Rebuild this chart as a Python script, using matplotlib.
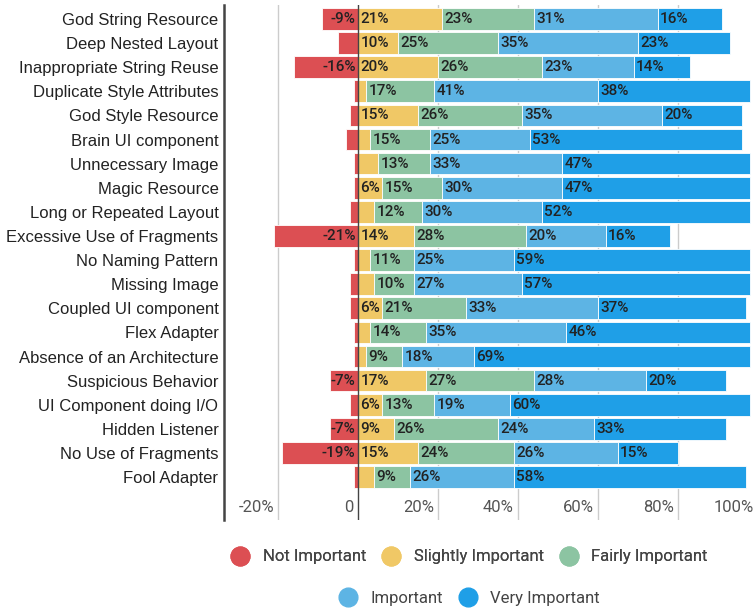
import matplotlib
matplotlib.use("Agg")
import matplotlib.pyplot as plt
from matplotlib.lines import Line2D
from matplotlib.transforms import blended_transform_factory, ScaledTranslation
import numpy as np

categories = ["God String Resource", "Deep Nested Layout", "Inappropriate String Reuse",
              "Duplicate Style Attributes", "God Style Resource", "Brain UI component",
              "Unnecessary Image", "Magic Resource", "Long or Repeated Layout",
              "Excessive Use of Fragments", "No Naming Pattern", "Missing Image",
              "Coupled UI component", "Flex Adapter", "Absence of an Architecture",
              "Suspicious Behavior", "UI Component doing I/O", "Hidden Listener",
              "No Use of Fragments", "Fool Adapter"]
not_important      = [9, 5, 16, 1, 2, 3, 1, 1, 2, 21, 1, 2, 2, 1, 1, 7, 2, 7, 19, 1]
slightly_important = [21, 10, 20, 2, 15, 3, 5, 6, 4, 14, 3, 4, 6, 3, 2, 17, 6, 9, 15, 4]
fairly_important   = [23, 25, 26, 17, 26, 15, 13, 15, 12, 28, 11, 10, 21, 14, 9, 27, 13, 26, 24, 9]
important          = [31, 35, 23, 41, 35, 25, 33, 30, 30, 20, 25, 27, 33, 35, 18, 28, 19, 24, 26, 26]
very_important     = [16, 23, 14, 38, 20, 53, 47, 47, 52, 16, 59, 57, 37, 46, 69, 20, 60, 33, 15, 58]
series_names = ["Not Important", "Slightly Important", "Fairly Important", "Important", "Very Important"]
xticks = [-20, 0, 20, 40, 60, 80, 100]
xtick_labels = ["-20%", "0", "20%", "40%", "60%", "80%", "100%"]

colors = ["#DC4F53", "#F0C866", "#8CC4A2", "#5DB4E4", "#1F9FE7"]
label_font = "Roboto"

W, H = 756, 611
fig = plt.figure(figsize=(W / 100, H / 100), dpi=100)
ax = fig.add_axes([224 / W, 1 - 520 / H, 1 - 224 / W, (520 - 5) / H])

y = np.arange(len(categories))
bh = 0.9

# gridlines behind
for t in xticks:
    if t != 0:
        ax.axvline(t, color="#CCCCCC", lw=1.0, zorder=0)

# negative part
neg = -np.array(not_important, dtype=float)
ax.barh(y, neg, height=bh, color=colors[0], edgecolor="white", linewidth=0.6, zorder=2)
for yi, v in zip(y, not_important):
    if v >= 6:
        ax.text(-0.6, yi, f"-{v}%", ha="right", va="center", fontsize=11,
                family=label_font, fontweight="medium", color="#222222", zorder=4)

left = np.zeros(len(categories))
for vals, col in zip([slightly_important, fairly_important, important, very_important], colors[1:]):
    vals = np.array(vals, dtype=float)
    ax.barh(y, vals, left=left, height=bh, color=col, edgecolor="white", linewidth=0.6, zorder=2)
    for yi, l, v in zip(y, left, vals):
        if v >= 6:
            ax.text(l + 0.6, yi, f"{int(v)}%", ha="left", va="center", fontsize=11,
                    family=label_font, fontweight="medium", color="#222222", zorder=4)
    left += vals

ax.axvline(0, color="#444444", lw=1.0, zorder=3)

ax.set_xlim(-33.5, 99.6)
ax.set_ylim(20.78, -0.58)
ax.set_yticks(y)
ax.set_yticklabels(categories, family="Liberation Sans", fontsize=12, color="#222222")
ax.tick_params(axis="y", length=0, pad=4)
ax.set_xticks([])
for s in ["top", "right", "bottom"]:
    ax.spines[s].set_visible(False)
ax.spines["left"].set_color("#444444")
ax.spines["left"].set_linewidth(1.8)

trans = blended_transform_factory(ax.transData, ax.transData) + ScaledTranslation(-4 / 100, 0, fig.dpi_scale_trans)
for t, lab in zip(xticks, xtick_labels):
    ax.text(t, 20.25, lab, transform=trans, ha="right", va="center",
            fontsize=12, family=label_font, color="#555555")

def handle(c):
    return Line2D([], [], marker="o", linestyle="none", markersize=13.5,
                  markerfacecolor=c, markeredgecolor=c)

common = dict(loc="center", frameon=False, prop={"family": label_font, "size": 12},
              handletextpad=0.75, columnspacing=0.9, handlelength=1.2)
leg1 = fig.legend([handle(c) for c in colors[:3]], series_names[:3],
                  bbox_to_anchor=(469 / W, 1 - 557 / H), ncol=3, **common)
for tx in leg1.get_texts():
    tx.set_color("#444444")
leg2 = fig.legend([handle(c) for c in colors[3:]], series_names[3:],
                  bbox_to_anchor=(469 / W, 1 - 598 / H), ncol=2, **common)
for tx in leg2.get_texts():
    tx.set_color("#444444")
fig.add_artist(leg1)

fig.savefig("out.png", dpi=100)
